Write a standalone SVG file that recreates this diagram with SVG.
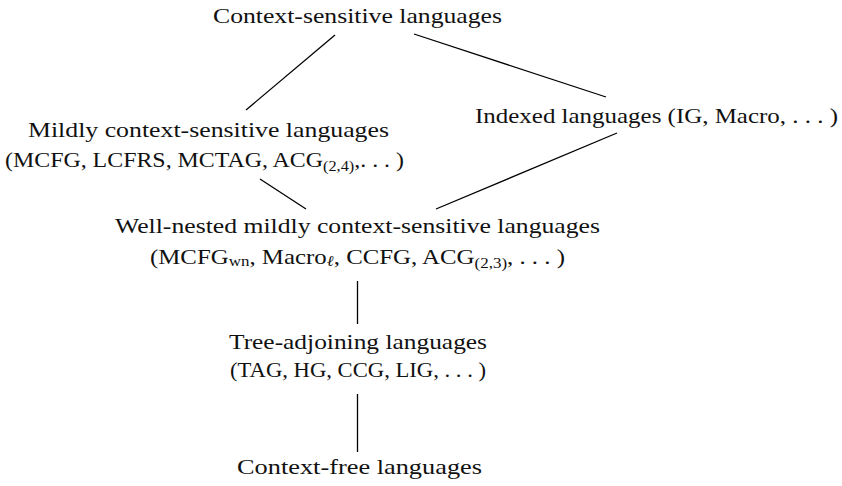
<svg xmlns="http://www.w3.org/2000/svg" width="842" height="486" viewBox="0 0 842 486">
<style>
text{font-family:"Liberation Serif","DejaVu Serif",serif;font-size:22px;fill:#111;text-anchor:middle}
.sub{font-size:15px}
.conn line{stroke:#000;stroke-width:1.3}
</style>
<rect width="842" height="486" fill="#fff"/>
<g class="conn" id="connectors">
<line x1="335" y1="35" x2="246" y2="110"/>
<line x1="414" y1="34" x2="606" y2="97"/>
<line x1="260" y1="179" x2="306" y2="209"/>
<line x1="617" y1="133" x2="436" y2="209"/>
<line x1="357.5" y1="281" x2="357.5" y2="324"/>
<line x1="357.5" y1="394" x2="357.5" y2="452"/>
</g>
<g id="cs"><text x="357.5" y="23" textLength="289" lengthAdjust="spacingAndGlyphs">Context-sensitive languages</text></g>
<g id="mcs">
<text x="208.5" y="137" textLength="361" lengthAdjust="spacingAndGlyphs">Mildly context-sensitive languages</text>
<text x="204.5" y="167" textLength="399" lengthAdjust="spacingAndGlyphs">(MCFG, LCFRS, MCTAG, ACG<tspan class="sub" dy="4">(2,4)</tspan><tspan dy="-4">,. . . )</tspan></text>
</g>
<g id="idx"><text x="656.5" y="123" textLength="363" lengthAdjust="spacingAndGlyphs">Indexed languages (IG, Macro, . . . )</text></g>
<g id="wn">
<text x="357.5" y="233" textLength="485" lengthAdjust="spacingAndGlyphs">Well-nested mildly context-sensitive languages</text>
<text x="357.5" y="264" textLength="415" lengthAdjust="spacingAndGlyphs">(MCFG<tspan class="sub" dy="2">wn</tspan><tspan dy="-2">, Macro</tspan><tspan class="sub" dy="2" font-style="italic">ℓ</tspan><tspan dy="-2">, CCFG, ACG</tspan><tspan class="sub" dy="4">(2,3)</tspan><tspan dy="-4">, . . . )</tspan></text>
</g>
<g id="tal">
<text x="358" y="349" textLength="258" lengthAdjust="spacingAndGlyphs">Tree-adjoining languages</text>
<text x="358" y="377" textLength="256" lengthAdjust="spacingAndGlyphs">(TAG, HG, CCG, LIG, . . . )</text>
</g>
<g id="cf"><text x="359.5" y="474" textLength="245" lengthAdjust="spacingAndGlyphs">Context-free languages</text></g>
</svg>
